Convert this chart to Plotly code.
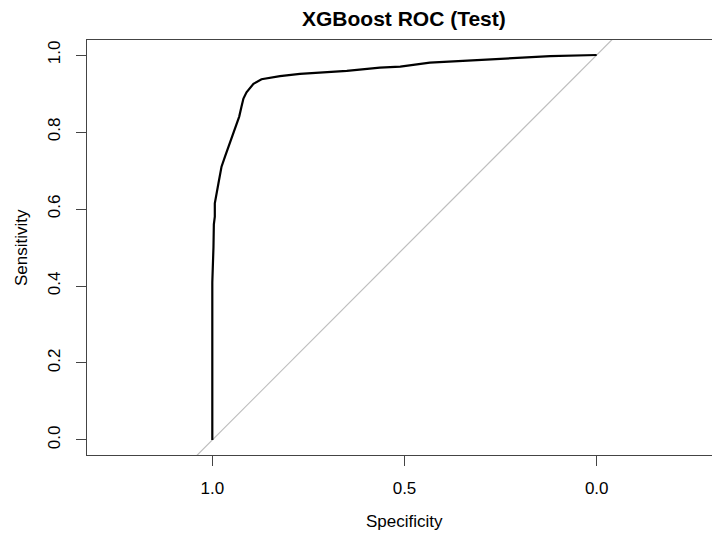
import plotly.graph_objects as go

# ROC curve (specificity, sensitivity)
specificity = [1.0, 1.0, 0.997, 0.996, 0.9935, 0.9935, 0.984, 0.976, 0.967, 0.954,
               0.941, 0.930, 0.924, 0.919, 0.911, 0.893, 0.872, 0.824, 0.772,
               0.650, 0.564, 0.511, 0.434, 0.251, 0.121, 0.0]
sensitivity = [0.0, 0.41, 0.50, 0.56, 0.580, 0.615, 0.667, 0.710, 0.736, 0.771,
               0.809, 0.840, 0.866, 0.887, 0.903, 0.925, 0.937, 0.945, 0.951,
               0.959, 0.967, 0.970, 0.980, 0.991, 0.997, 1.0]

x_ticks = [1.0, 0.5, 0.0]
x_ticklabels = ["1.0", "0.5", "0.0"]
y_ticks = [0.0, 0.2, 0.4, 0.6, 0.8, 1.0]
y_ticklabels = ["0.0", "0.2", "0.4", "0.6", "0.8", "1.0"]

x_range = [1.326, -0.300]
y_range = [-0.039, 1.039]

FONT = "Liberation Sans, Arial, sans-serif"
AXC = "#444444"

fig = go.Figure()

# chance diagonal: sensitivity = 1 - specificity, spanning the axis range
diag_x = [x_range[0] + 0.2, x_range[1] - 0.2]
diag_y = [1 - v for v in diag_x]
fig.add_trace(go.Scatter(x=diag_x, y=diag_y, mode="lines",
                         line=dict(color="#BEBEBE", width=1.2),
                         hoverinfo="skip", showlegend=False))

fig.add_trace(go.Scatter(x=specificity, y=sensitivity, mode="lines",
                         line=dict(color="black", width=2.2),
                         showlegend=False))

fig.update_layout(
    width=712, height=533,
    margin=dict(l=87, r=0, t=40, b=78),
    plot_bgcolor="white", paper_bgcolor="white",
    font=dict(family=FONT, size=17, color="black"),
    xaxis=dict(range=x_range, tickmode="array", tickvals=x_ticks,
               ticktext=x_ticklabels, showgrid=False, zeroline=False,
               showline=True, linecolor=AXC, linewidth=1, mirror=True,
               ticks="outside", ticklen=10, tickcolor=AXC, tickwidth=1,
               tickfont=dict(size=17), ticklabelstandoff=8),
    yaxis=dict(range=y_range, tickmode="array", tickvals=y_ticks,
               ticktext=y_ticklabels, showgrid=False, zeroline=False,
               showline=True, linecolor=AXC, linewidth=1,
               ticks="outside", ticklen=10, tickcolor=AXC, tickwidth=1,
               tickangle=-90, tickfont=dict(size=17), ticklabelstandoff=9),
    annotations=[
        dict(text="<b>XGBoost ROC (Test)</b>", xref="paper", yref="paper",
             x=(404 - 87) / 625, y=1 + (40 - 19) / 415, xanchor="center",
             yanchor="middle", showarrow=False, font=dict(size=21)),
        dict(text="Specificity", xref="paper", yref="paper",
             x=(404 - 87) / 625, y=-(521 - 455) / 415, xanchor="center",
             yanchor="middle", showarrow=False, font=dict(size=17)),
        dict(text="Sensitivity", xref="paper", yref="paper",
             x=(21.5 - 87) / 625, y=0.5, xanchor="center", yanchor="middle",
             textangle=-90, showarrow=False, font=dict(size=17)),
    ],
)

fig.write_html("out.html")
